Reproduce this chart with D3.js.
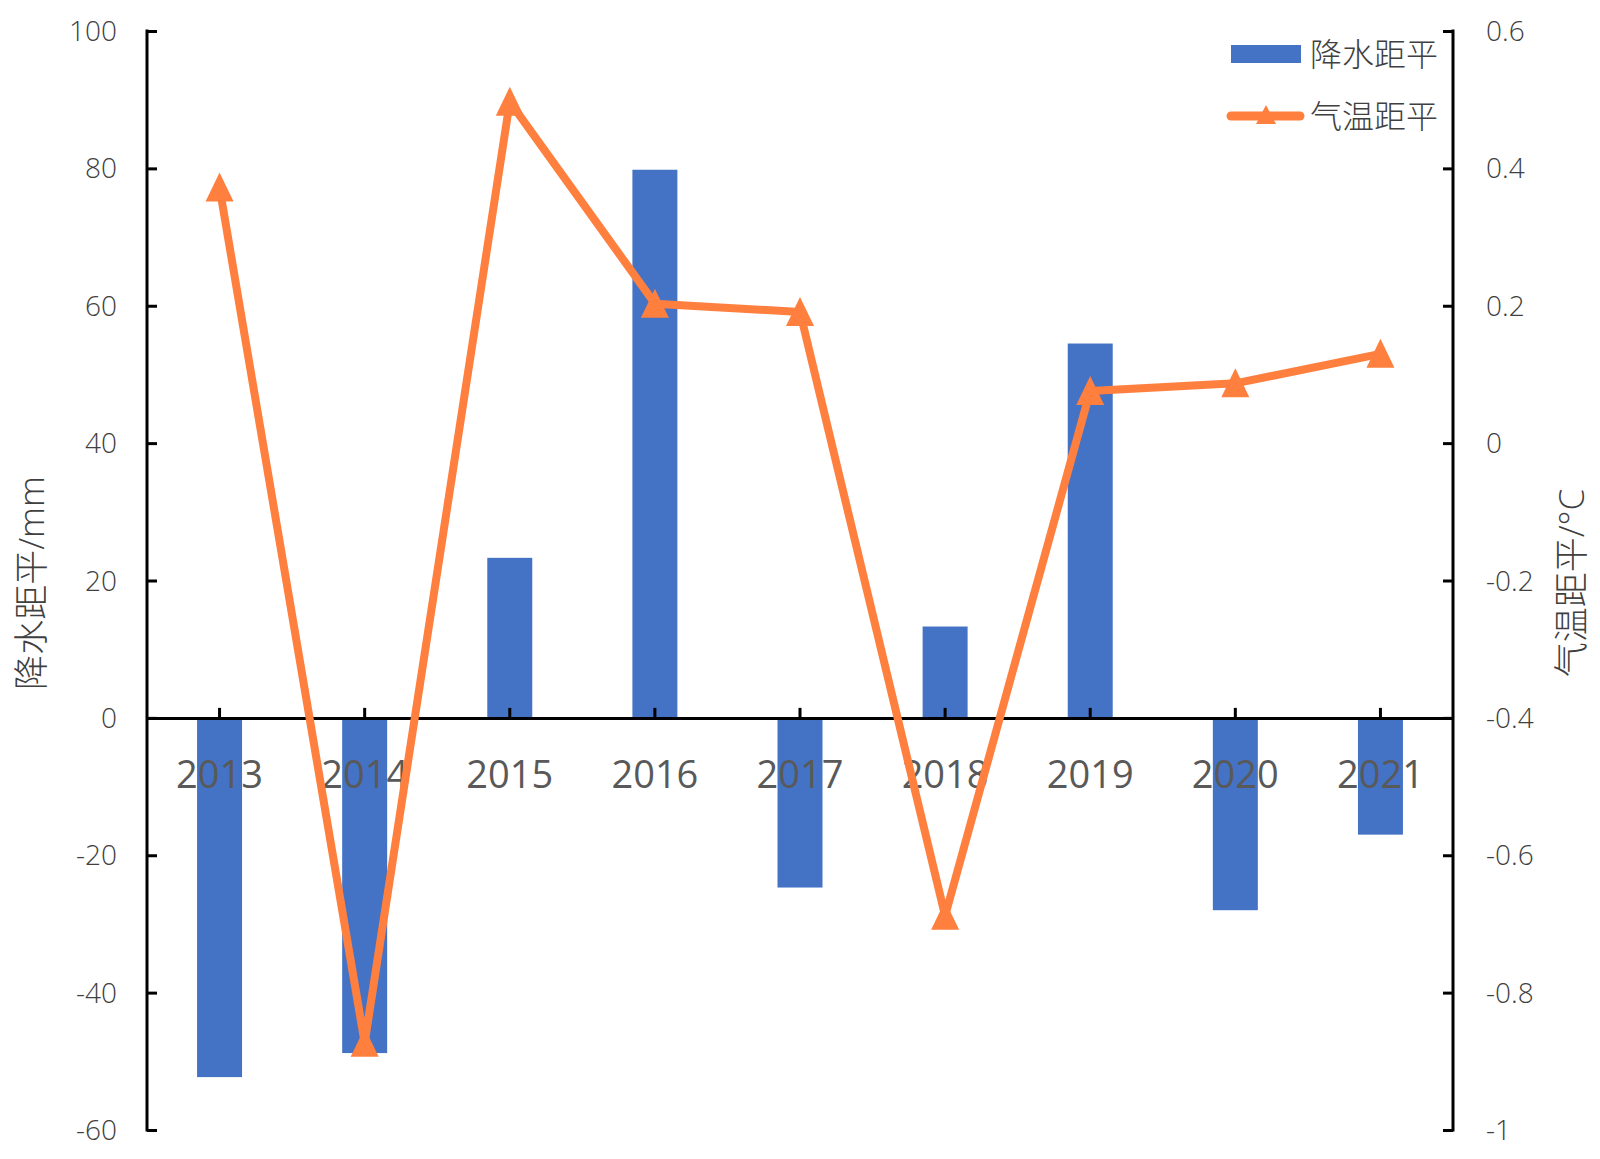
<!DOCTYPE html>
<html>
<head>
<meta charset="utf-8">
<script src="https://cdn.jsdelivr.net/npm/d3@7"></script>
<style>
  body { margin: 0; background: #fff; }
  text { font-family: "Open Sans", "Noto Sans CJK SC", sans-serif; }
</style>
</head>
<body>
<svg id="chart"></svg>
<script>
const width = 1600;
const height = 1159;

const years = ['2013', '2014', '2015', '2016', '2017', '2018', '2019', '2020', '2021'];
const precip = [-52.3, -48.8, 23.3, 79.8, -24.7, 13.3, 54.5, -28, -17];
const temp = [0.372, -0.873, 0.497, 0.203, 0.191, -0.688, 0.076, 0.087, 0.13];
const leftTicks = [100, 80, 60, 40, 20, 0, -20, -40, -60];
const rightTicks = [0.6, 0.4, 0.2, 0, -0.2, -0.4, -0.6, -0.8, -1];

const plotLeft = 147, plotRight = 1453, plotTop = 31, plotBottom = 1130;

const svg = d3.select('#chart')
    .attr('width', width)
    .attr('height', height);

const x = d3.scaleBand().domain(years).range([plotLeft, plotRight]).paddingInner(0.69).paddingOuter(0.345);
const xc = d => x(d) + x.bandwidth() / 2;
const y = d3.scaleLinear().domain([-60, 100]).range([plotBottom, plotTop]);
const y2 = d3.scaleLinear().domain([-1, 0.6]).range([plotBottom, plotTop]);

const blue = '#4472C4';
const orange = '#FF7F3F';

// bars
svg.selectAll('rect.bar')
    .data(years)
    .enter()
    .append('rect')
    .attr('class', 'bar')
    .attr('x', d => x(d))
    .attr('width', x.bandwidth())
    .attr('y', (d, i) => y(Math.max(0, precip[i])))
    .attr('height', (d, i) => Math.abs(y(precip[i]) - y(0)))
    .style('fill', blue);

// left axis
const yAxis = svg.append('g')
    .attr('transform', `translate(${plotLeft}, 0)`)
    .call(d3.axisRight(y).tickValues(leftTicks).tickSize(10).tickFormat(''));
yAxis.select('.domain').remove();
yAxis.selectAll('line').attr('stroke', '#000').attr('stroke-width', 3);
svg.append('line')
    .attr('x1', plotLeft).attr('x2', plotLeft)
    .attr('y1', y(100) - 1.5).attr('y2', y(-60) + 1.5)
    .attr('stroke', '#000').attr('stroke-width', 3);
svg.selectAll('text.ly')
    .data(leftTicks)
    .enter()
    .append('text')
    .attr('x', 117)
    .attr('y', d => y(d))
    .attr('dy', '0.36em')
    .attr('text-anchor', 'end')
    .style('font-size', '28px')
    .style('font-weight', 300)
    .style('fill', '#404040')
    .text(d => d);

// right axis
const y2Axis = svg.append('g')
    .attr('transform', `translate(${plotRight}, 0)`)
    .call(d3.axisLeft(y2).tickValues(rightTicks).tickSize(10).tickFormat(''));
y2Axis.select('.domain').remove();
y2Axis.selectAll('line').attr('stroke', '#000').attr('stroke-width', 3);
svg.append('line')
    .attr('x1', plotRight).attr('x2', plotRight)
    .attr('y1', y2(0.6) - 1.5).attr('y2', y2(-1) + 1.5)
    .attr('stroke', '#000').attr('stroke-width', 3);
svg.selectAll('text.ry')
    .data(rightTicks)
    .enter()
    .append('text')
    .attr('x', 1486)
    .attr('y', d => y2(d))
    .attr('dy', '0.36em')
    .style('font-size', '28px')
    .style('font-weight', 300)
    .style('fill', '#404040')
    .text(d => d);

// zero line with year ticks
const xAxis = svg.append('g')
    .attr('transform', `translate(0, ${y(0)})`)
    .call(d3.axisTop(x).tickSize(10).tickSizeOuter(0).tickFormat(''));
xAxis.select('.domain').attr('stroke', '#000').attr('stroke-width', 3);
xAxis.selectAll('line').attr('stroke', '#000').attr('stroke-width', 3);

svg.selectAll('text.year')
    .data(years)
    .enter()
    .append('text')
    .attr('x', d => xc(d))
    .attr('y', 788)
    .attr('text-anchor', 'middle')
    .style('font-size', '38px')
    .style('fill', '#595959')
    .text(d => d);

// temperature line
const line = d3.line()
    .x((d, i) => xc(years[i]))
    .y(d => y2(d));
svg.append('path')
    .datum(temp)
    .attr('d', line)
    .attr('fill', 'none')
    .attr('stroke', orange)
    .attr('stroke-width', 8)
    .attr('stroke-linejoin', 'round');

const tri = 'M0,-15L14,14L-14,14Z';
svg.selectAll('path.mark')
    .data(temp)
    .enter()
    .append('path')
    .attr('class', 'mark')
    .attr('d', tri)
    .attr('transform', (d, i) => `translate(${xc(years[i])}, ${y2(d)})`)
    .style('fill', orange);

// axis titles
svg.append('text')
    .attr('transform', 'translate(31, 583) rotate(-90)')
    .attr('text-anchor', 'middle')
    .attr('dy', '0.36em')
    .style('font-size', '35px')
    .style('font-weight', 300)
    .style('fill', '#404040')
    .text('降水距平/mm');

svg.append('text')
    .attr('transform', 'translate(1571, 583) rotate(-90)')
    .attr('text-anchor', 'middle')
    .attr('dy', '0.36em')
    .style('font-size', '35px')
    .style('font-weight', 300)
    .style('fill', '#404040')
    .text('气温距平/°C');

// legend
const legend = svg.append('g');
legend.append('rect')
    .attr('x', 1231).attr('y', 45)
    .attr('width', 70).attr('height', 18)
    .style('fill', blue);
legend.append('text')
    .attr('x', 1310).attr('y', 54)
    .attr('dy', '0.36em')
    .style('font-size', '32px')
    .style('font-weight', 300)
    .style('fill', '#404040')
    .text('降水距平');
legend.append('line')
    .attr('x1', 1231).attr('x2', 1300)
    .attr('y1', 116).attr('y2', 116)
    .attr('stroke', orange).attr('stroke-width', 9)
    .attr('stroke-linecap', 'round');
legend.append('path')
    .attr('d', 'M0,-11L10,8L-10,8Z')
    .attr('transform', 'translate(1266, 116)')
    .style('fill', orange);
legend.append('text')
    .attr('x', 1310).attr('y', 116)
    .attr('dy', '0.36em')
    .style('font-size', '32px')
    .style('font-weight', 300)
    .style('fill', '#404040')
    .text('气温距平');
</script>
</body>
</html>
